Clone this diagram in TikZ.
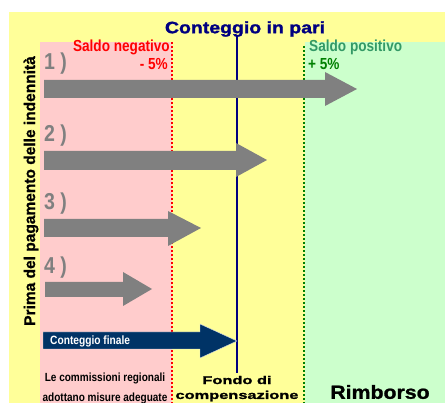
\documentclass[tikz,border=0pt]{standalone}
\usepackage{fontspec}
\setmainfont{Liberation Sans}
\newfontfamily\narrow[FakeStretch=0.85]{Liberation Sans}
\newfontfamily\wide[FakeStretch=1.45,FakeBold=1.5]{Liberation Sans}
\newfontfamily\heavy[FakeStretch=1.12,FakeBold=1.2]{Liberation Sans}
\newfontfamily\titlefont[FakeStretch=1.18,FakeBold=1.5]{Liberation Sans}
\newfontfamily\vfont[FakeBold=1]{Liberation Sans}
\definecolor{bgyellow}{HTML}{FFFF99}
\definecolor{bgpink}{HTML}{FFCCCC}
\definecolor{bggreen}{HTML}{CCFFCC}
\definecolor{navy}{HTML}{000080}
\definecolor{finalblue}{HTML}{003366}
\definecolor{arrgray}{HTML}{808080}
\definecolor{posgreen}{HTML}{339966}
\definecolor{darkgreen}{HTML}{008000}
\tikzset{
  grayarrow/.style={fill=arrgray, draw=none},
  numlabel/.style={font=\narrow\bfseries\fontsize{23}{23}\selectfont, text=arrgray, inner sep=0pt, anchor=west},
  saldo/.style={font=\narrow\bfseries\fontsize{16}{16}\selectfont, inner sep=0pt},
  redsep/.style={draw=red, line width=2pt, dash pattern=on 2pt off 2pt},
  greensep/.style={draw=darkgreen, line width=2pt, dash pattern=on 2pt off 2pt},
}
\begin{document}
\begin{tikzpicture}[x=1pt,y=-1pt]
\useasboundingbox (0,0) rectangle (445,403);
\fill[white] (0,0) rectangle (445,403);
% backgrounds
\fill[bgyellow] (9,12) rectangle (445,403);
\fill[bgpink] (40,42) rectangle (172,403);
\fill[bggreen] (305,42) rectangle (445,403);
% separators
\coordinate (rtop) at (172,42); \coordinate (rbot) at (172,403);
\coordinate (gtop) at (304,46); \coordinate (gbot) at (304,403);
\coordinate (ntop) at (237,36); \coordinate (nbot) at (237,373);
\draw[redsep] (rtop) -- (rbot);
\draw[greensep] (gtop) -- (gbot);
\draw[navy, line width=2.5pt] (ntop) -- (nbot);
% title
\node[font=\titlefont\bfseries\fontsize{16.5}{16.5}\selectfont, text=navy, inner sep=0pt] (title) at (245,29) {Conteggio in pari};
% vertical label
\node[font=\vfont\bfseries\fontsize{15.5}{15.5}\selectfont, rotate=90, inner sep=0pt] (vlab) at (31,191) {Prima del pagamento delle indennità};
% saldo labels
\node[saldo, text=red, anchor=east] (neg) at (170,47) {Saldo negativo};
\node[saldo, text=red, anchor=east] (negp) at (168,64) {- 5\%};
\node[saldo, text=posgreen, anchor=west] (pos) at (309,47) {Saldo positivo};
\node[saldo, text=darkgreen, anchor=west] (posp) at (308,64) {+ 5\%};
% number labels
\node[numlabel] (l1) at (44,64) {1 )};
\node[numlabel] (l2) at (44,136) {2 )};
\node[numlabel] (l3) at (44,204) {3 )};
\node[numlabel] (l4) at (44,268) {4 )};
% gray arrows
\fill[grayarrow] (44,80) -- (325,80) -- (325,72) -- (357,89) -- (325,106) -- (325,98) -- (44,98) -- cycle;
\fill[grayarrow] (44,151) -- (236,151) -- (236,143) -- (267,160) -- (236,177) -- (236,170) -- (44,170) -- cycle;
\fill[grayarrow] (44,219) -- (168,219) -- (168,211) -- (201,228) -- (168,246) -- (168,237) -- (44,237) -- cycle;
\fill[grayarrow] (45,282) -- (123,282) -- (123,272) -- (152,289) -- (123,306) -- (123,297) -- (45,297) -- cycle;
% final arrow
\fill[finalblue, draw=white!85!finalblue, line width=0.4pt] (43,332) -- (200,332) -- (200,324) -- (237,341) -- (200,358) -- (200,349) -- (43,349) -- cycle;
\node[font=\narrow\bfseries\fontsize{12}{12}\selectfont, text=white, anchor=west, inner sep=0pt] (fin) at (50,341) {Conteggio finale};
% bottom texts
\node[font=\narrow\bfseries\fontsize{11.8}{11.8}\selectfont, inner sep=0pt] (comm1) at (105,378) {Le commissioni regionali};
\node[font=\narrow\bfseries\fontsize{11.8}{11.8}\selectfont, inner sep=0pt] (comm2) at (105,398) {adottano misure adeguate};
\node[font=\wide\bfseries\fontsize{11.3}{11.3}\selectfont, inner sep=0pt] (fondo1) at (237,380) {Fondo di};
\node[font=\wide\bfseries\fontsize{11.3}{11.3}\selectfont, inner sep=0pt] (fondo2) at (237,396) {compensazione};
\node[font=\heavy\bfseries\fontsize{19}{19}\selectfont, inner sep=0pt] (rimb) at (380,392) {Rimborso};
\end{tikzpicture}
\end{document}
